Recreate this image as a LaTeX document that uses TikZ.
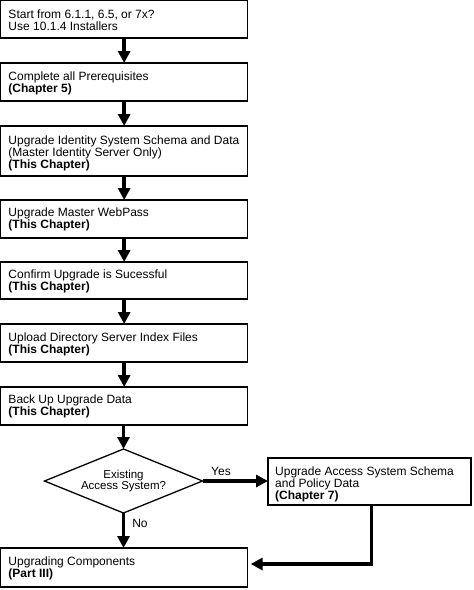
\documentclass[tikz,border=0pt]{standalone}
\usepackage{fontspec}
\setmainfont{Liberation Sans}
\usetikzlibrary{arrows.meta,shapes.geometric}
\begin{document}
\begin{tikzpicture}[x=1pt,y=-1pt,
  box/.style={draw,line width=1.3pt,inner sep=0pt,outer sep=0pt,anchor=north west,minimum width=247pt},
  lbl/.style={inner sep=0pt,anchor=north west,align=left,font=\fontsize{12}{12}\selectfont},
  dia/.style={diamond,aspect=2.47,draw,line width=1.3pt,inner sep=0pt,outer sep=0pt,minimum width=158pt,minimum height=64pt,align=center,font=\fontsize{11.5}{11}\selectfont},
  arr/.style={line width=3.8pt,-{Triangle[length=12pt,width=12pt]}},
  tag/.style={inner sep=0pt,anchor=base,font=\fontsize{12}{12}\selectfont}]
\useasboundingbox (0,0) rectangle (474,590);
% boxes
\node[box,minimum height=37.4pt] (b1) at (0.65,0.65) {};
\node[box,minimum height=38pt] (b2) at (0.65,63) {};
\node[box,minimum height=50pt] (b3) at (0.65,126) {};
\node[box,minimum height=38pt] (b4) at (0.65,200) {};
\node[box,minimum height=37pt] (b5) at (0.65,262) {};
\node[box,minimum height=38pt] (b6) at (0.65,324) {};
\node[box,minimum height=38pt] (b7) at (0.65,387) {};
\node[box,minimum height=39pt] (b8) at (0.65,548) {};
\node[box,minimum width=203pt,minimum height=47pt] (r) at (268,458) {};
\node[dia] (d) at (123.5,481) {Existing\\Access System?};
% texts
\node[lbl] (t1) at (8.3,6.3) {\rule{0pt}{12pt}Start from 6.1.1, 6.5, or 7x?\\Use 10.1.4 Installers};
\node[lbl] (t2) at (8.3,68) {\rule{0pt}{12pt}Complete all Prerequisites\\\textbf{(Chapter 5)}};
\node[lbl] (t3) at (8.3,132) {\rule{0pt}{12pt}Upgrade Identity System Schema and Data\\(Master Identity Server Only)\\\textbf{(This Chapter)}};
\node[lbl] (t4) at (8.3,204.5) {\rule{0pt}{12pt}Upgrade Master WebPass\\\textbf{(This Chapter)}};
\node[lbl] (t5) at (8.3,266.5) {\rule{0pt}{12pt}Confirm Upgrade is Sucessful\\\textbf{(This Chapter)}};
\node[lbl] (t6) at (8.3,329) {\rule{0pt}{12pt}Upload Directory Server Index Files\\\textbf{(This Chapter)}};
\node[lbl] (t7) at (8.3,391) {\rule{0pt}{12pt}Back Up Upgrade Data\\\textbf{(This Chapter)}};
\node[lbl] (t8) at (8.3,553) {\rule{0pt}{12pt}Upgrading Components\\\textbf{(Part III)}};
\node[lbl] (tr) at (275,463) {\rule{0pt}{12pt}Upgrade Access System Schema\\and Policy Data\\\textbf{(Chapter 7)}};
% connectors
\draw[arr] (b1.south) -- (b2.north);
\draw[arr] (b2.south) -- (b3.north);
\draw[arr] (b3.south) -- (b4.north);
\draw[arr] (b4.south) -- (b5.north);
\draw[arr] (b5.south) -- (b6.north);
\draw[arr] (b6.south) -- (b7.north);
\draw[arr] (b7.south -| d.north) -- (d.north);
\draw[arr] (d.east) -- (d.east -| r.west);
\draw[arr] (d.south) -- (d.south |- b8.north);
\draw[arr,shorten >=3pt] ([xshift=2pt]r.south) |- ([yshift=3.5pt]b8.east);
\node[tag] (yes) at (221,475) {Yes};
\node[tag] (no) at (140,527) {No};
\end{tikzpicture}
\end{document}
